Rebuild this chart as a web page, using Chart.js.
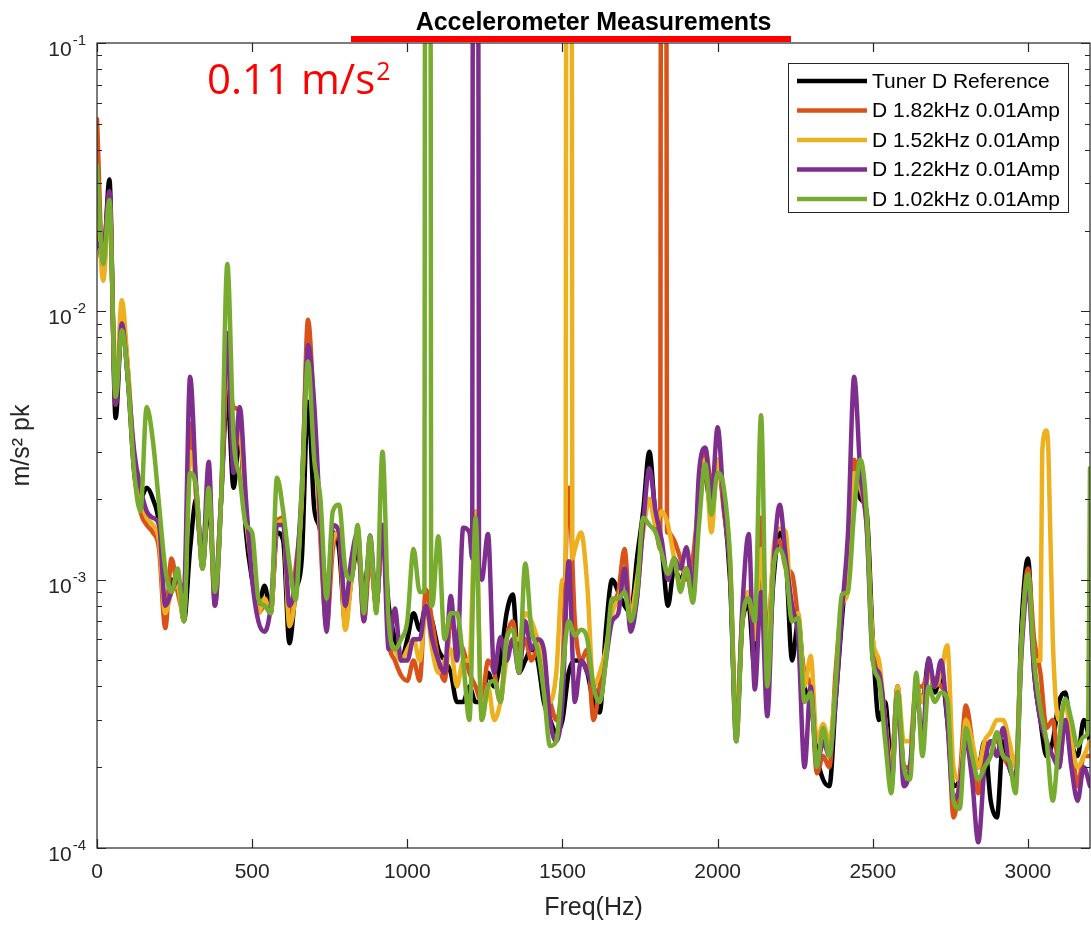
<!DOCTYPE html>
<html>
<head>
<meta charset="utf-8">
<title>Accelerometer Measurements</title>
<script src="https://cdn.jsdelivr.net/npm/chart.js@4.4.1/dist/chart.umd.min.js"></script>
<style>
  html, body { margin: 0; padding: 0; background: #fff; }
  #wrap { width: 1091px; height: 926px; position: relative; }
</style>
</head>
<body>
<div id="wrap"><canvas id="chart" width="1091" height="926"></canvas></div>
<script>
// frequency grid (Hz)
const FREQ = [
  0, 20, 40, 60, 80, 100, 120, 140, 160, 180,
  200, 220, 240, 260, 280, 300, 320, 340, 360, 380,
  400, 420, 440, 460, 480, 500, 520, 540, 560, 580,
  600, 620, 640, 660, 680, 700, 720, 740, 760, 780,
  800, 820, 840, 860, 880, 900, 920, 940, 960, 980,
  1000, 1020, 1040, 1060, 1080, 1100, 1120, 1140, 1160, 1180,
  1200, 1220, 1240, 1260, 1280, 1300, 1320, 1340, 1360, 1380,
  1400, 1420, 1440, 1460, 1480, 1500, 1520, 1540, 1560, 1580,
  1600, 1620, 1640, 1660, 1680, 1700, 1720, 1740, 1760, 1780,
  1800, 1820, 1840, 1860, 1880, 1900, 1920, 1940, 1960, 1980,
  2000, 2020, 2040, 2060, 2080, 2100, 2120, 2140, 2160, 2180,
  2200, 2220, 2240, 2260, 2280, 2300, 2320, 2340, 2360, 2380,
  2400, 2420, 2440, 2460, 2480, 2500, 2520, 2540, 2560, 2580,
  2600, 2620, 2640, 2660, 2680, 2700, 2720, 2740, 2760, 2780,
  2800, 2820, 2840, 2860, 2880, 2900, 2920, 2940, 2960, 2980,
  3000, 3020, 3040, 3060, 3080, 3100, 3120, 3140, 3160, 3180,
  3200
];

// amplitudes in mm/s^2 pk, one value per FREQ entry
const REF_D = [
  20, 15, 31, 4.0, 9, 5.5, 2.5, 2.0, 2.2, 2.0,
  1.6, 0.75, 1.0, 1.0, 0.7, 1.3, 2.0, 1.1, 2.0, 0.9,
  2.0, 5.0, 2.2, 3.5, 1.5, 1.0, 0.8, 0.95, 0.75, 1.5,
  1.4, 0.58, 0.9, 1.2, 4.6, 1.85, 1.5, 0.75, 1.5, 1.3,
  0.7, 1.0, 1.3, 0.9, 1.3, 0.8, 1.5, 0.8, 0.6, 0.5,
  0.6, 0.75, 0.65, 0.8, 0.7, 0.55, 0.5, 0.45, 0.35, 0.35,
  0.4, 0.35, 0.35, 0.45, 0.4, 0.5, 0.75, 0.88, 0.45, 0.5,
  0.55, 0.5, 0.35, 0.3, 0.27, 0.3, 0.45, 0.5, 0.5, 0.45,
  0.35, 0.32, 0.65, 1.0, 0.9, 0.8, 0.75, 1.2, 1.8, 3.0,
  1.7, 1.3, 0.8, 1.1, 1.0, 1.1, 0.85, 2.0, 2.4, 1.8,
  2.7, 1.9, 1.0, 0.28, 0.7, 0.8, 0.45, 1.5, 0.45, 1.0,
  1.5, 1.2, 0.5, 0.7, 0.4, 0.35, 0.22, 0.18, 0.17, 0.35,
  0.7, 1.3, 2.5, 2.0, 1.8, 0.6, 0.3, 0.35, 0.2, 0.4,
  0.2, 0.2, 0.4, 0.35, 0.5, 0.38, 0.45, 0.3, 0.17, 0.18,
  0.3, 0.22, 0.2, 0.25, 0.15, 0.13, 0.25, 0.2, 0.18, 0.7,
  1.2, 0.45, 0.3, 0.22, 0.25, 0.35, 0.38, 0.25, 0.22, 0.3,
  0.25
];

const D_182 = [
  52, 14, 27, 4.5, 9.5, 6, 2.6, 1.8, 1.6, 1.5,
  1.3, 0.66, 1.2, 0.9, 0.75, 3.8, 2.0, 1.2, 2.2, 0.8,
  2.0, 6.0, 4.4, 4.2, 1.8, 1.2, 0.75, 0.8, 0.8, 1.65,
  1.7, 0.7, 1.1, 2.0, 9.3, 4.0, 1.4, 0.67, 1.3, 1.5,
  0.66, 1.1, 1.4, 0.7, 1.2, 0.8, 1.6, 0.6, 0.5, 0.44,
  0.42, 0.5, 0.42, 0.92, 0.7, 0.5, 0.42, 0.7, 0.6, 0.55,
  0.45, 0.4, 0.35, 0.5, 0.45, 0.35, 0.6, 0.7, 0.5, 0.6,
  0.5, 0.55, 0.4, 0.35, 0.3, 0.45, 2.2, 0.7, 0.5, 0.55,
  0.3, 0.4, 0.55, 0.8, 0.9, 1.3, 0.7, 0.85, 1.6, 2.0,
  1.6, 110, 1.5, 1.4, 1.2, 1.0, 1.2, 2.0, 3.1, 2.3,
  2.8, 1.8, 1.1, 0.28, 0.7, 0.85, 0.6, 1.7, 0.6, 1.2,
  1.4, 1.1, 1.05, 0.7, 0.45, 0.4, 0.19, 0.22, 0.2, 0.45,
  0.8, 1.0, 2.8, 2.2, 1.6, 0.55, 0.45, 0.3, 0.18, 0.35,
  0.2, 0.2, 0.4, 0.4, 0.45, 0.42, 0.4, 0.35, 0.13, 0.18,
  0.34, 0.25, 0.16, 0.22, 0.25, 0.25, 0.22, 0.2, 0.18, 0.6,
  1.1, 0.6, 0.45, 0.28, 0.3, 0.2, 0.3, 0.25, 0.17, 0.22,
  0.22
];

const D_152 = [
  30, 13, 25, 5, 11, 6, 2.8, 2.0, 1.7, 1.6,
  1.4, 0.75, 0.9, 0.95, 0.7, 3.0, 2.2, 1.1, 2.4, 0.85,
  2.0, 7.0, 3.0, 3.5, 1.7, 1.1, 0.75, 0.85, 0.75, 1.6,
  1.66, 0.67, 0.9, 2.0, 7.5, 3.5, 1.5, 0.75, 1.4, 1.5,
  0.65, 1.0, 1.5, 0.8, 1.3, 0.8, 1.6, 0.65, 0.55, 0.5,
  0.55, 0.6, 0.5, 0.8, 0.55, 0.45, 0.5, 0.55, 0.4, 0.5,
  0.5, 1.8, 0.3, 0.4, 0.3, 0.35, 0.5, 0.6, 0.6, 0.75,
  0.7, 0.6, 0.5, 0.35, 0.45, 1.0, 110, 1.3, 1.5, 0.95,
  0.4, 0.45, 0.55, 0.75, 0.85, 1.0, 0.75, 1.0, 1.5, 2.0,
  1.6, 1.8, 1.6, 1.2, 0.95, 1.1, 0.9, 2.2, 2.8, 1.5,
  2.8, 2.0, 1.2, 0.3, 0.75, 0.9, 0.6, 1.3, 0.5, 1.3,
  1.55, 1.5, 0.7, 0.75, 0.4, 0.52, 0.25, 0.29, 0.25, 0.4,
  0.8, 0.9, 2.5, 2.2, 1.7, 0.6, 0.5, 0.3, 0.2, 0.4,
  0.25, 0.25, 0.4, 0.35, 0.45, 0.4, 0.45, 0.57, 0.2, 0.18,
  0.3, 0.25, 0.2, 0.25, 0.27, 0.3, 0.3, 0.25, 0.2, 0.6,
  1.0, 0.5, 0.5, 3.6, 0.6, 0.3, 0.35, 0.25, 0.2, 0.22,
  0.25
];

const D_122 = [
  18, 17, 28, 4.5, 9, 5.5, 3.0, 2.2, 1.8, 1.7,
  1.6, 0.8, 0.9, 1.0, 0.9, 5.7, 2.2, 1.2, 2.75, 0.8,
  2.0, 8.3, 2.5, 4.4, 2.0, 1.0, 0.7, 0.64, 0.8, 1.6,
  1.6, 0.8, 1.0, 2.2, 7.5, 4.5, 1.6, 0.64, 1.6, 1.5,
  0.8, 1.2, 1.5, 0.7, 1.46, 0.8, 1.6, 0.55, 0.78, 0.5,
  0.5, 0.6, 0.6, 0.8, 0.6, 0.5, 0.45, 0.87, 0.5, 1.56,
  1.5, 110, 1.0, 1.48, 0.45, 0.61, 0.5, 0.6, 0.45, 0.7,
  0.55, 0.6, 0.55, 0.3, 0.25, 0.35, 1.17, 0.35, 0.5, 0.45,
  0.4, 0.35, 0.5, 0.7, 0.75, 1.1, 0.64, 0.85, 1.6, 2.6,
  1.8, 1.4, 1.0, 1.2, 1.1, 1.32, 0.9, 2.5, 3.1, 2.0,
  3.7, 1.9, 1.1, 0.25, 0.8, 1.48, 0.39, 0.9, 0.31, 1.1,
  1.9, 1.2, 0.8, 0.6, 0.2, 0.4, 0.2, 0.25, 0.22, 0.35,
  0.75, 1.48, 5.7, 2.5, 1.6, 0.5, 0.45, 0.3, 0.17, 0.38,
  0.17, 0.2, 0.4, 0.25, 0.51, 0.4, 0.5, 0.3, 0.15, 0.17,
  0.25, 0.18, 0.105, 0.2, 0.25, 0.22, 0.28, 0.2, 0.18, 0.55,
  0.95, 0.45, 0.3, 0.25, 0.22, 0.2, 0.3, 0.2, 0.15, 0.2,
  0.17
];

const D_102 = [
  35, 15, 26, 4.8, 8.5, 5.5, 2.5, 1.8, 4.4, 3.3,
  1.9, 1.1, 0.9, 1.1, 0.7, 2.5, 2.2, 1.1, 2.2, 0.9,
  2.0, 15, 3.4, 2.4, 1.6, 1.5, 0.85, 0.8, 0.75, 2.4,
  1.8, 1.15, 0.84, 2.2, 6.5, 2.8, 2.0, 0.85, 1.8, 1.9,
  1.1, 1.0, 1.6, 0.75, 1.45, 0.75, 3.0, 0.7, 0.55, 0.6,
  0.7, 1.3, 0.9, 110, 0.8, 1.45, 0.6, 0.75, 0.75, 0.5,
  0.3, 1.7, 0.3, 0.4, 0.42, 0.35, 0.6, 0.65, 0.45, 1.15,
  0.65, 0.55, 0.38, 0.24, 0.25, 0.45, 0.7, 0.62, 0.65, 0.6,
  0.4, 0.35, 0.5, 0.85, 0.85, 0.9, 0.7, 0.9, 1.7, 1.6,
  1.5, 1.25, 1.05, 1.2, 0.9, 1.1, 0.82, 1.6, 2.7, 1.75,
  2.5, 2.2, 1.2, 0.25, 0.7, 0.85, 0.7, 4.1, 0.4, 1.1,
  1.3, 1.1, 0.7, 0.72, 0.35, 0.38, 0.2, 0.28, 0.22, 0.4,
  0.88, 0.9, 1.8, 2.8, 1.8, 0.5, 0.42, 0.25, 0.16, 0.38,
  0.2, 0.18, 0.45, 0.22, 0.4, 0.35, 0.38, 0.36, 0.15, 0.14,
  0.28, 0.22, 0.18, 0.2, 0.22, 0.27, 0.22, 0.21, 0.16, 0.6,
  1.05, 0.5, 0.33, 0.25, 0.15, 0.25, 0.36, 0.3, 0.24, 0.26,
  2.6
];

// extra samples at the edges of the injected tones (Hz, mm/s^2)
const TONE_F_182 = [1815, 1817, 1835, 1837];
const TONE_V_182 = [1.3, 110, 110, 1.5];
const TONE_F_152 = [1510, 1512, 1530, 1532, 3046, 3066];
const TONE_V_152 = [1.0, 110, 110, 1.2, 3.0, 3.0];
const TONE_F_122 = [1209, 1211, 1229, 1231];
const TONE_V_122 = [1.2, 110, 110, 1.1];
const TONE_F_102 = [1055, 1057, 1075, 1077, 3194];
const TONE_V_102 = [0.9, 110, 110, 0.8, 0.27];

const LABELS = ['Tuner D Reference', 'D 1.82kHz 0.01Amp', 'D 1.52kHz 0.01Amp', 'D 1.22kHz 0.01Amp', 'D 1.02kHz 0.01Amp'];
const COLORS = ['#000000', '#D95319', '#EDB120', '#7E2F8E', '#77AC30'];

const X_TICKS = [0, 500, 1000, 1500, 2000, 2500, 3000];
const Y_DECADES = [-4, -3, -2, -1];

const AXIS_COLOR = '#262626';
const FONT = '"Liberation Sans", Arial, Helvetica, sans-serif';

// mm/s^2 -> m/s^2, merged with the tone edge samples
function toPoints(vals, toneF = [], toneV = []) {
  const pts = FREQ.map((f, i) => ({ x: f, y: vals[i] / 1000 }));
  toneF.forEach((f, i) => pts.push({ x: f, y: toneV[i] / 1000 }));
  return pts.sort((a, b) => a.x - b.x);
}

const seriesData = [
  toPoints(REF_D),
  toPoints(D_182, TONE_F_182, TONE_V_182),
  toPoints(D_152, TONE_F_152, TONE_V_152),
  toPoints(D_122, TONE_F_122, TONE_V_122),
  toPoints(D_102, TONE_F_102, TONE_V_102)
];

// axes box, inward ticks, superscript labels, legend and annotations
const frame = {
  id: 'frame',
  afterDraw(chart) {
    const { ctx, chartArea: a } = chart;
    const xs = chart.scales.x;
    const ys = chart.scales.y;
    ctx.save();

    ctx.strokeStyle = AXIS_COLOR;
    ctx.lineWidth = 1.2;
    ctx.strokeRect(a.left, a.top, a.right - a.left, a.bottom - a.top);

    ctx.beginPath();
    X_TICKS.forEach(v => {
      const px = Math.round(xs.getPixelForValue(v)) + 0.5;
      ctx.moveTo(px, a.bottom); ctx.lineTo(px, a.bottom - 9);
      ctx.moveTo(px, a.top); ctx.lineTo(px, a.top + 9);
    });
    Y_DECADES.forEach(d => {
      for (let m = 1; m <= 9; m++) {
        const v = m * Math.pow(10, d);
        if (v > ys.max * 1.0001) break;
        const py = Math.round(ys.getPixelForValue(v)) + 0.5;
        const len = m === 1 ? 9 : 5;
        ctx.moveTo(a.left, py); ctx.lineTo(a.left + len, py);
        ctx.moveTo(a.right, py); ctx.lineTo(a.right - len, py);
      }
    });
    ctx.stroke();

    // y tick labels 10^d
    ctx.fillStyle = AXIS_COLOR;
    ctx.textBaseline = 'alphabetic';
    Y_DECADES.forEach(d => {
      const py = ys.getPixelForValue(Math.pow(10, d));
      ctx.font = '15px ' + FONT;
      const sup = String(d);
      const supW = ctx.measureText(sup).width;
      const baseX = a.left - 12 - supW;
      ctx.textAlign = 'left';
      ctx.fillText(sup, baseX + 1, py + 2);
      ctx.font = '21px ' + FONT;
      ctx.textAlign = 'right';
      ctx.fillText('10', baseX, py + 13);
    });

    // axis titles
    const cx = (a.left + a.right) / 2;
    ctx.textAlign = 'center';
    ctx.fillStyle = AXIS_COLOR;
    ctx.font = '25px ' + FONT;
    ctx.textBaseline = 'middle';
    ctx.fillText('Freq(Hz)', cx, 908);
    ctx.save();
    ctx.translate(22, (a.top + a.bottom) / 2);
    ctx.rotate(-Math.PI / 2);
    ctx.fillText('m/s² pk', 0, 0);
    ctx.restore();

    // title
    ctx.fillStyle = '#000';
    ctx.font = 'bold 25px ' + FONT;
    ctx.textBaseline = 'alphabetic';
    ctx.fillText('Accelerometer Measurements', cx, 30);

    // red underline and amplitude note
    ctx.fillStyle = '#FF0000';
    ctx.fillRect(351, 36, 440, 6);
    ctx.font = '42px "Open Sans", "Noto Sans", sans-serif';
    ctx.textAlign = 'left';
    const note = '0.11 m/s';
    ctx.fillText(note, 207, 94);
    const noteW = ctx.measureText(note).width;
    ctx.font = '25px "Open Sans", "Noto Sans", sans-serif';
    ctx.fillText('2', 207 + noteW + 1, 80);

    // legend
    const box = { x: 788, y: 63, w: 280, h: 149 };
    ctx.fillStyle = '#fff';
    ctx.fillRect(box.x, box.y, box.w, box.h);
    ctx.strokeStyle = AXIS_COLOR;
    ctx.lineWidth = 1;
    ctx.strokeRect(box.x + 0.5, box.y + 0.5, box.w, box.h);
    ctx.font = '21px ' + FONT;
    ctx.textBaseline = 'middle';
    ctx.textAlign = 'left';
    chart.data.datasets.forEach((ds, i) => {
      const ry = box.y + 18 + i * 29.5;
      ctx.strokeStyle = ds.borderColor;
      ctx.lineWidth = 4.5;
      ctx.beginPath();
      ctx.moveTo(box.x + 9, ry);
      ctx.lineTo(box.x + 79, ry);
      ctx.stroke();
      ctx.fillStyle = '#000';
      ctx.fillText(ds.label, box.x + 84, ry + 1);
    });

    ctx.restore();
  }
};

new Chart(document.getElementById('chart'), {
  type: 'line',
  data: {
    datasets: LABELS.map((label, i) => ({
      label,
      data: seriesData[i],
      borderColor: COLORS[i],
      backgroundColor: COLORS[i],
      borderWidth: 4.5,
      pointRadius: 0,
      cubicInterpolationMode: 'monotone',
      fill: false,
      clip: 0,
      order: LABELS.length - i
    }))
  },
  options: {
    responsive: false,
    animation: false,
    events: [],
    layout: { padding: { top: 43, right: 1, left: 0, bottom: 0 } },
    elements: { line: { borderJoinStyle: 'round', borderCapStyle: 'round' } },
    plugins: {
      legend: { display: false },
      title: { display: false },
      tooltip: { enabled: false }
    },
    scales: {
      x: {
        type: 'linear',
        min: 0,
        max: 3200,
        afterFit: s => { s.height = 78; },
        afterBuildTicks: s => { s.ticks = X_TICKS.map(v => ({ value: v })); },
        ticks: {
          font: { family: FONT, size: 21 },
          color: AXIS_COLOR,
          padding: 12,
          maxRotation: 0,
          autoSkip: false,
          callback: v => String(v)
        },
        grid: { display: false, drawTicks: false },
        border: { display: false }
      },
      y: {
        type: 'logarithmic',
        min: 1e-4,
        max: 1e-1,
        afterFit: s => { s.width = 97; },
        ticks: { display: false },
        grid: { display: false },
        border: { display: false }
      }
    }
  },
  plugins: [frame]
});
</script>
</body>
</html>
